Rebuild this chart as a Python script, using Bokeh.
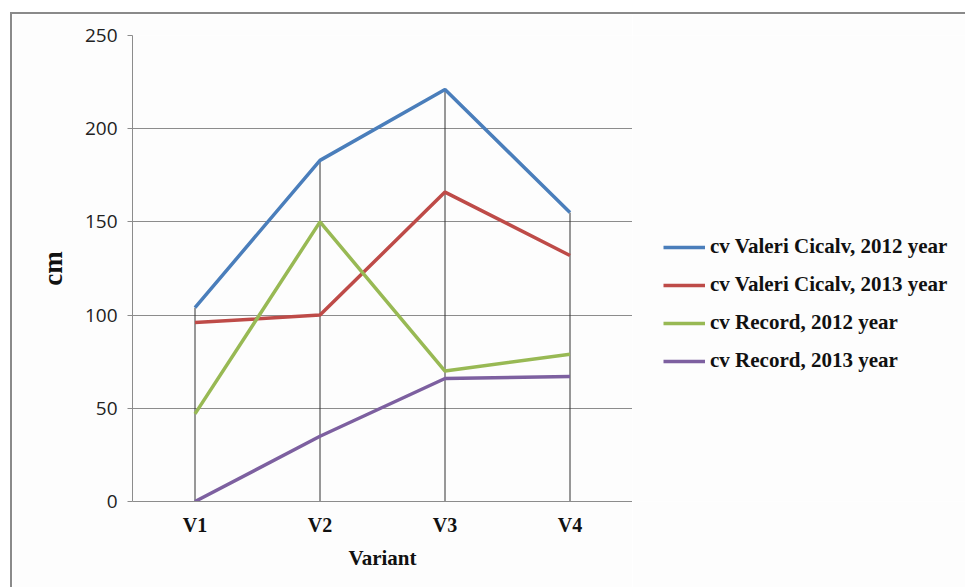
from bokeh.plotting import figure
from bokeh.layouts import row
from bokeh.models import Legend, LegendItem, FactorRange, Range1d, FixedTicker
from bokeh.embed import file_html
from bokeh.resources import INLINE

variants = ["V1", "V2", "V3", "V4"]
valeri_2012 = [104, 183, 221, 155]
valeri_2013 = [96, 100, 166, 132]
record_2012 = [47, 150, 70, 79]
record_2013 = [0, 35, 66, 67]
series_names = ["cv Valeri Cicalv, 2012 year", "cv Valeri Cicalv, 2013 year",
                "cv Record, 2012 year", "cv Record, 2013 year"]
series_values = [valeri_2012, valeri_2013, record_2012, record_2013]
colors = ["#4a7ebb", "#be4b48", "#98b954", "#7d60a0"]
y_ticks = [0, 50, 100, 150, 200, 250]

BG = "#fdfdfd"
H = 575

xr = FactorRange(*variants, range_padding=0)
yr = Range1d(0, 250)

p = figure(x_range=xr, y_range=yr,
           width=620, height=H, output_backend="svg", toolbar_location=None,
           min_border_left=120, min_border_right=0, min_border_top=21, min_border_bottom=88)
p.background_fill_color = BG
p.border_fill_color = BG
p.outline_line_color = None

# drop lines (vertical high lines)
tops = [max(v) for v in zip(*series_values)]
p.segment(x0=variants, y0=[0] * len(variants), x1=variants, y1=tops, line_color="#333333", line_width=1)

for vals, c in zip(series_values, colors):
    p.line(variants, vals, line_color=c, line_width=3.5)

p.xgrid.grid_line_color = None
p.ygrid.grid_line_color = "#8c8c8c"
p.ygrid.grid_line_width = 1

p.yaxis.ticker = FixedTicker(ticks=y_ticks)
p.yaxis.axis_line_color = "#8c8c8c"
p.yaxis.major_tick_line_color = "#8c8c8c"
p.yaxis.major_tick_out = 5
p.yaxis.major_tick_in = 0
p.yaxis.minor_tick_line_color = None
p.yaxis.major_label_text_font = "Open Sans"
p.yaxis.major_label_text_font_size = "19px"
p.yaxis.major_label_text_color = "#222222"
p.yaxis.major_label_standoff = 10
p.yaxis.axis_label = "cm"
p.yaxis.axis_label_text_font = "Liberation Serif"
p.yaxis.axis_label_text_font_style = "bold"
p.yaxis.axis_label_text_font_size = "27px"
p.yaxis.axis_label_text_color = "#111111"
p.yaxis.axis_label_standoff = 14

p.xaxis.axis_line_color = "#8c8c8c"
p.xaxis.major_tick_line_color = None
p.xaxis.major_tick_out = 0
p.xaxis.major_tick_in = 0
p.xaxis.major_label_text_font = "Liberation Serif"
p.xaxis.major_label_text_font_style = "bold"
p.xaxis.major_label_text_font_size = "20px"
p.xaxis.major_label_text_color = "#111111"
p.xaxis.major_label_standoff = 12
p.xaxis.axis_label = "Variant"
p.xaxis.axis_label_text_font = "Liberation Serif"
p.xaxis.axis_label_text_font_style = "bold"
p.xaxis.axis_label_text_font_size = "21px"
p.xaxis.axis_label_text_color = "#111111"
p.xaxis.axis_label_standoff = 7

# legend panel (shares the data ranges; its own copies of the series stay hidden)
p2 = figure(width=335, height=H, output_backend="svg", toolbar_location=None,
            x_axis_location=None, y_axis_location=None,
            x_range=xr, y_range=yr,
            min_border_left=0, min_border_right=0, min_border_top=0, min_border_bottom=0)
p2.background_fill_color = BG
p2.border_fill_color = BG
p2.outline_line_color = None
p2.grid.visible = False

items = []
for name, vals, c in zip(series_names, series_values, colors):
    r = p2.line(variants, vals, line_color=c, line_width=3.5, visible=False)
    items.append(LegendItem(label=name, renderers=[r]))

legend = Legend(items=items, location=(31, 128))
legend.background_fill_alpha = 0
legend.border_line_color = None
legend.inactive_fill_alpha = 0
legend.label_text_font = "Liberation Serif"
legend.label_text_font_style = "bold"
legend.label_text_font_size = "21px"
legend.label_text_color = "#111111"
legend.glyph_width = 42
legend.glyph_height = 24
legend.label_height = 24
legend.spacing = 13
legend.label_standoff = 5
legend.padding = 0
legend.margin = 0
p2.add_layout(legend)

layout = row(p, p2, margin=(12, 0, 0, 10),
             styles={"border-top": "2px solid #8a8a8a", "border-left": "2px solid #8a8a8a"})

open("out.html", "w").write(file_html(layout, INLINE))
